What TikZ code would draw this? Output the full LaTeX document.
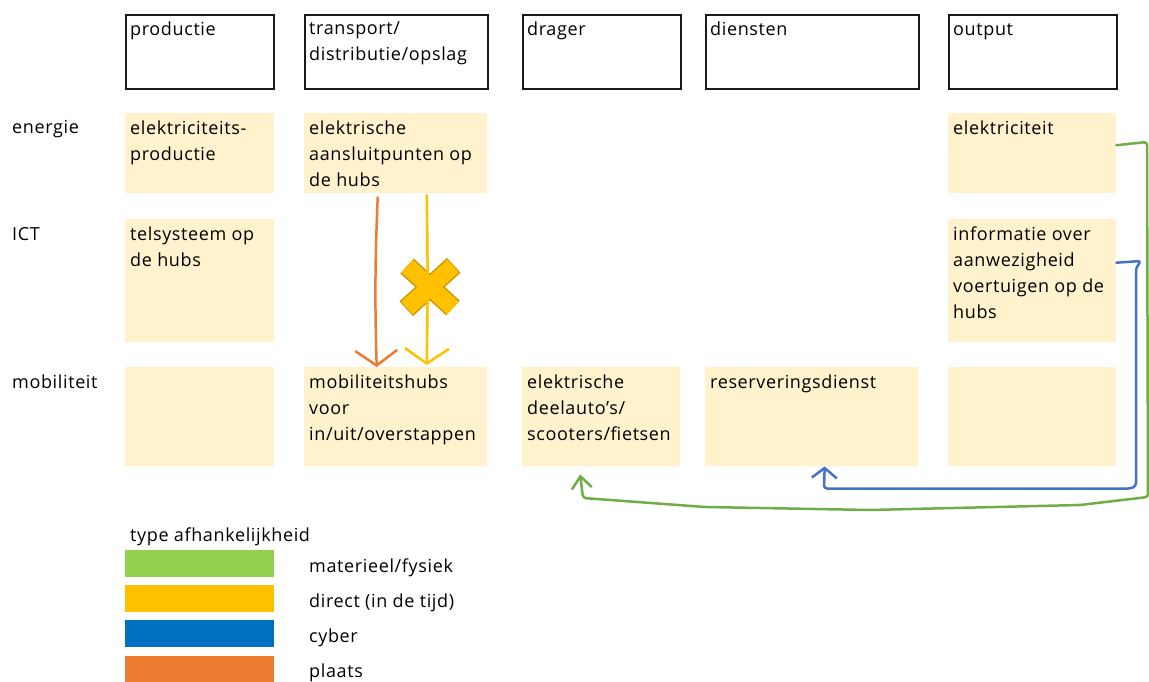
\documentclass[tikz,border=0pt]{standalone}
\usepackage{fontspec}
\setmainfont{Open Sans}[LetterSpace=3.5]
\usetikzlibrary{arrows.meta}

\definecolor{cellfill}{HTML}{FFF2CC}
\definecolor{hdrline}{HTML}{1A1A1A}
\definecolor{fysgreen}{HTML}{70AD47}
\definecolor{cybblue}{HTML}{4472C4}
\definecolor{plorange}{HTML}{ED7D31}
\definecolor{diryellow}{HTML}{FFC000}
\definecolor{crossedge}{HTML}{C79A00}
\definecolor{lgdgreen}{HTML}{92D050}
\definecolor{lgdblue}{HTML}{0070C0}
\newcommand\cellfont{\fontsize{18}{26}\selectfont}

\tikzset{
  hdr/.style={draw=hdrline, line width=1.6pt, anchor=north west,
    minimum width=#1pt, minimum height=74pt, inner sep=0pt},
  cell/.style 2 args={fill=cellfill, anchor=north west,
    minimum width=#1pt, minimum height=#2pt, inner sep=0pt},
  txt/.style={anchor=north west, align=left, inner xsep=5pt, inner ysep=7.5pt,
    font=\cellfont},
  rowlbl/.style={anchor=base west, inner sep=0pt, font=\cellfont},
  bar/.style={anchor=north west, minimum width=149pt, minimum height=27pt, inner sep=0pt},
  dep/.style={line width=2.5pt, line cap=round, line join=round, rounded corners=3pt},
}

\begin{document}
\begin{tikzpicture}[x=1pt, y=-1pt]
\useasboundingbox[fill=white] (0,0) rectangle (1149,682);

\node[hdr=148] (hprod) at (125,14) [label={[txt]north west:productie}] {};
\node[hdr=183] (htrans) at (304,14) [label={[txt]north west:transport/\\distributie/opslag}] {};
\node[hdr=158] (hdrag) at (522,14) [label={[txt]north west:drager}] {};
\node[hdr=213] (hdienst) at (705,14) [label={[txt]north west:diensten}] {};
\node[hdr=168] (hout) at (948,14) [label={[txt]north west:\vphantom{d}output}] {};

\node[rowlbl] (lenergie) at (12,134) {energie};
\node[rowlbl] (lict) at (12,240) {ICT};
\node[rowlbl] (lmob) at (12,388) {mobiliteit};

\node[cell={149}{80}] (eprod) at (125,113) [label={[txt]north west:elektriciteits-\\productie}] {};
\node[cell={183}{80}] (ehub) at (304,113) [label={[txt]north west:elektrische\\aansluitpunten op\\de hubs}] {};
\node[cell={168}{80}] (eout) at (948,113) [label={[txt]north west:elektriciteit}] {};

\node[cell={149}{123}] (iprod) at (125,219) [label={[txt]north west:telsysteem op\\de hubs}] {};
\node[cell={168}{123}] (iout) at (948,219) [label={[txt]north west:informatie over\\aanwezigheid\\voertuigen op de\\hubs}] {};

\node[cell={149}{99}] (mprod) at (125,367) {};
\node[cell={183}{99}] (mhub) at (304,367) [label={[txt]north west:mobiliteitshubs\\voor\\in/uit/overstappen}] {};
\node[cell={158}{99}] (drag) at (522,367) [label={[txt]north west:elektrische\\deelauto's/\\scooters/fietsen}] {};
\node[cell={213}{99}] (res) at (705,367) [label={[txt]north west:reserveringsdienst}] {};
\node[cell={168}{99}] (mout) at (948,367) {};

\coordinate (kruis) at (430,287);
\draw[crossedge, line width=20pt, shorten <=-1pt, shorten >=-1pt]
  ([shift={(-23,-21)}]kruis) -- ([shift={(23,21)}]kruis)
  ([shift={(23,-21)}]kruis) -- ([shift={(-23,21)}]kruis);
\draw[diryellow, line width=17pt]
  ([shift={(-23,-21)}]kruis) -- ([shift={(23,21)}]kruis)
  ([shift={(23,-21)}]kruis) -- ([shift={(-23,21)}]kruis);

\draw[dep, plorange, -{Straight Barb[length=15pt, width=42pt]}]
  ([xshift=-18pt, yshift=-4pt]ehub.south) to[bend right=2] ([xshift=-19pt]mhub.north);
\draw[dep, diryellow, -{Straight Barb[length=15pt, width=44pt]}]
  ([xshift=31pt, yshift=-2pt]ehub.south) to[bend left=1] ([xshift=31pt, yshift=2pt]mhub.north);

\draw[dep, cybblue, -{Straight Barb[length=10pt, width=25pt]}]
  ([yshift=18pt]iout.east) -- (1141,261) -- (1136,268) -- (1136,486) -- (1131,488.5)
  -- (824,488.5) -- ([xshift=13pt]res.south);

\draw[dep, fysgreen, -{Straight Barb[length=12pt, width=20pt]}]
  ([yshift=8pt]eout.east) -- (1147,142) -- (1148,497) -- (1080,505) -- (870,510)
  -- (705,507) -- (583,498) -- ([xshift=-21pt, yshift=-8pt]drag.south);

\node[rowlbl] (ltitle) at (130,541) {type afhankelijkheid};
\node[bar, fill=lgdgreen] (bgreen) at (125,550) {};
\node[bar, fill=diryellow] (byellow) at (125,585) {};
\node[bar, fill=lgdblue] (bblue) at (125,620) {};
\node[bar, fill=plorange] (borange) at (125,656) {};
\node[rowlbl] (tgreen) at (309,572) {materieel/fysiek};
\node[rowlbl] (tyellow) at (309,607) {direct (in de tijd)};
\node[rowlbl] (tblue) at (309,642) {cyber};
\node[rowlbl] (torange) at (309,677) {plaats};
\end{tikzpicture}
\end{document}
